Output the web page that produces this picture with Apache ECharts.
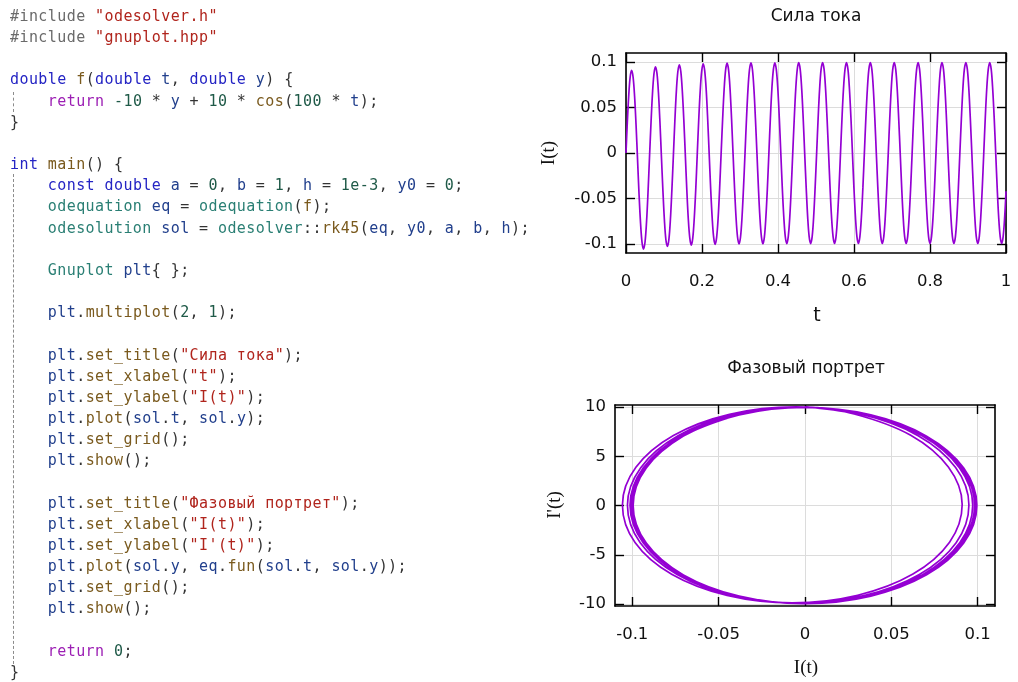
<!DOCTYPE html>
<html lang="ru">
<head>
<meta charset="UTF-8">
<title>odesolver + gnuplot</title>
<script src="https://cdn.jsdelivr.net/npm/echarts@6.0.0/dist/echarts.min.js"></script>
<style>
  body { margin: 0; background: #fff; }
  #chart { position: absolute; left: 0; top: 0; width: 1018px; height: 682px; }
  #code {
    position: absolute; left: 10px; top: 6px; margin: 0; z-index: 2;
    font-family: 'DejaVu Sans Mono', monospace; font-size: 15px;
    letter-spacing: 0.42px; line-height: 21.16px; color: #333;
  }
  .guide { position: absolute; left: 13px; width: 0; border-left: 1px dashed #8c8c8c; z-index: 1; }
  .p { color: #6a6a6a; }
  .s { color: #b0241c; }
  .k { color: #2424c4; }
  .f { color: #7a5a1e; }
  .t { color: #2a7f74; }
  .v { color: #213f8c; }
  .n { color: #1f5a48; }
  .r { color: #9c1fb4; }
</style>
</head>
<body>
<pre id="code"><span class="p">#include</span> <span class="s">"odesolver.h"</span>
<span class="p">#include</span> <span class="s">"gnuplot.hpp"</span>

<span class="k">double</span> <span class="f">f</span>(<span class="k">double</span> <span class="v">t</span>, <span class="k">double</span> <span class="v">y</span>) {
    <span class="r">return</span> <span class="n">-10</span> * <span class="v">y</span> + <span class="n">10</span> * <span class="f">cos</span>(<span class="n">100</span> * <span class="v">t</span>);
}

<span class="k">int</span> <span class="f">main</span>() {
    <span class="k">const</span> <span class="k">double</span> <span class="v">a</span> = <span class="n">0</span>, <span class="v">b</span> = <span class="n">1</span>, <span class="v">h</span> = <span class="n">1e-3</span>, <span class="v">y0</span> = <span class="n">0</span>;
    <span class="t">odequation</span> <span class="v">eq</span> = <span class="t">odequation</span>(<span class="f">f</span>);
    <span class="t">odesolution</span> <span class="v">sol</span> = <span class="t">odesolver</span>::<span class="f">rk45</span>(<span class="v">eq</span>, <span class="v">y0</span>, <span class="v">a</span>, <span class="v">b</span>, <span class="v">h</span>);

    <span class="t">Gnuplot</span> <span class="v">plt</span>{ };

    <span class="v">plt</span>.<span class="f">multiplot</span>(<span class="n">2</span>, <span class="n">1</span>);

    <span class="v">plt</span>.<span class="f">set_title</span>(<span class="s">"Сила тока"</span>);
    <span class="v">plt</span>.<span class="f">set_xlabel</span>(<span class="s">"t"</span>);
    <span class="v">plt</span>.<span class="f">set_ylabel</span>(<span class="s">"I(t)"</span>);
    <span class="v">plt</span>.<span class="f">plot</span>(<span class="v">sol</span>.<span class="v">t</span>, <span class="v">sol</span>.<span class="v">y</span>);
    <span class="v">plt</span>.<span class="f">set_grid</span>();
    <span class="v">plt</span>.<span class="f">show</span>();

    <span class="v">plt</span>.<span class="f">set_title</span>(<span class="s">"Фазовый портрет"</span>);
    <span class="v">plt</span>.<span class="f">set_xlabel</span>(<span class="s">"I(t)"</span>);
    <span class="v">plt</span>.<span class="f">set_ylabel</span>(<span class="s">"I'(t)"</span>);
    <span class="v">plt</span>.<span class="f">plot</span>(<span class="v">sol</span>.<span class="v">y</span>, <span class="v">eq</span>.<span class="f">fun</span>(<span class="v">sol</span>.<span class="v">t</span>, <span class="v">sol</span>.<span class="v">y</span>));
    <span class="v">plt</span>.<span class="f">set_grid</span>();
    <span class="v">plt</span>.<span class="f">show</span>();

    <span class="r">return</span> <span class="n">0</span>;
}</pre>
<div class="guide" style="top:92px;height:20px"></div>
<div class="guide" style="top:174px;height:490px"></div>
<div id="chart"></div>
<script>
// sol.t
var tVals = [0, 0.0029, 0.0069, 0.0108,
  0.0147, 0.0186, 0.0226, 0.0265, 0.0304, 0.0343, 0.0383, 0.0422, 0.0461, 0.0501, 0.0540, 0.0579, 0.0618, 0.0658, 0.0697, 0.0736,
  0.0775, 0.0815, 0.0854, 0.0893, 0.0932, 0.0972, 0.1011, 0.1050, 0.1090, 0.1129, 0.1168, 0.1207, 0.1247, 0.1286, 0.1325, 0.1364,
  0.1404, 0.1443, 0.1482, 0.1522, 0.1561, 0.1600, 0.1639, 0.1679, 0.1718, 0.1757, 0.1796, 0.1836, 0.1875, 0.1914, 0.1954, 0.1993,
  0.2032, 0.2071, 0.2111, 0.2150, 0.2189, 0.2228, 0.2268, 0.2307, 0.2346, 0.2385, 0.2425, 0.2464, 0.2503, 0.2543, 0.2582, 0.2621,
  0.2660, 0.2700, 0.2739, 0.2778, 0.2817, 0.2857, 0.2896, 0.2935, 0.2975, 0.3014, 0.3053, 0.3092, 0.3132, 0.3171, 0.3210, 0.3249,
  0.3289, 0.3328, 0.3367, 0.3406, 0.3446, 0.3485, 0.3524, 0.3564, 0.3603, 0.3642, 0.3681, 0.3721, 0.3760, 0.3799, 0.3838, 0.3878,
  0.3917, 0.3956, 0.3996, 0.4035, 0.4074, 0.4113, 0.4153, 0.4192, 0.4231, 0.4270, 0.4310, 0.4349, 0.4388, 0.4428, 0.4467, 0.4506,
  0.4545, 0.4585, 0.4624, 0.4663, 0.4702, 0.4742, 0.4781, 0.4820, 0.4859, 0.4899, 0.4938, 0.4977, 0.5017, 0.5056, 0.5095, 0.5134,
  0.5174, 0.5213, 0.5252, 0.5291, 0.5331, 0.5370, 0.5409, 0.5449, 0.5488, 0.5527, 0.5566, 0.5606, 0.5645, 0.5684, 0.5723, 0.5763,
  0.5802, 0.5841, 0.5880, 0.5920, 0.5959, 0.5998, 0.6038, 0.6077, 0.6116, 0.6155, 0.6195, 0.6234, 0.6273, 0.6312, 0.6352, 0.6391,
  0.6430, 0.6470, 0.6509, 0.6548, 0.6587, 0.6627, 0.6666, 0.6705, 0.6744, 0.6784, 0.6823, 0.6862, 0.6902, 0.6941, 0.6980, 0.7019,
  0.7059, 0.7098, 0.7137, 0.7176, 0.7216, 0.7255, 0.7294, 0.7333, 0.7373, 0.7412, 0.7451, 0.7491, 0.7530, 0.7569, 0.7608, 0.7648,
  0.7687, 0.7726, 0.7765, 0.7805, 0.7844, 0.7883, 0.7923, 0.7962, 0.8001, 0.8040, 0.8080, 0.8119, 0.8158, 0.8197, 0.8237, 0.8276,
  0.8315, 0.8355, 0.8394, 0.8433, 0.8472, 0.8512, 0.8551, 0.8590, 0.8629, 0.8669, 0.8708, 0.8747, 0.8786, 0.8826, 0.8865, 0.8904,
  0.8944, 0.8983, 0.9022, 0.9061, 0.9101, 0.9140, 0.9179, 0.9218, 0.9258, 0.9297, 0.9336, 0.9376, 0.9415, 0.9454, 0.9493, 0.9533,
  0.9572, 0.9611, 0.9650, 0.9690, 0.9729, 0.9768, 0.9807, 0.9847, 0.9886, 0.9925, 0.9965, 1];

// sol.y  -> I(t)
var iVals = [0, 0.0285, 0.0612, 0.0830,
  0.0910, 0.0837, 0.0625, 0.0305, -0.0073, -0.0451, -0.0772, -0.0984, -0.1057, -0.0979, -0.0762, -0.0437, -0.0053, 0.0330, 0.0655, 0.0872,
  0.0949, 0.0875, 0.0662, 0.0341, -0.0039, -0.0419, -0.0740, -0.0954, -0.1028, -0.0951, -0.0735, -0.0411, -0.0028, 0.0354, 0.0678, 0.0894,
  0.0971, 0.0896, 0.0681, 0.0359, -0.0021, -0.0401, -0.0723, -0.0937, -0.1013, -0.0936, -0.0720, -0.0397, -0.0015, 0.0366, 0.0690, 0.0905,
  0.0982, 0.0906, 0.0692, 0.0369, -0.0011, -0.0392, -0.0714, -0.0929, -0.1005, -0.0928, -0.0713, -0.0389, -0.0008, 0.0373, 0.0696, 0.0912,
  0.0988, 0.0912, 0.0698, 0.0375, -0.0006, -0.0387, -0.0710, -0.0924, -0.1000, -0.0924, -0.0709, -0.0386, -0.0004, 0.0377, 0.0700, 0.0915,
  0.0991, 0.0916, 0.0701, 0.0378, -0.0003, -0.0384, -0.0707, -0.0922, -0.0998, -0.0922, -0.0707, -0.0383, -0.0002, 0.0379, 0.0702, 0.0917,
  0.0993, 0.0917, 0.0702, 0.0379, -0.0002, -0.0383, -0.0706, -0.0921, -0.0997, -0.0920, -0.0705, -0.0382, -0.0001, 0.0380, 0.0703, 0.0918,
  0.0994, 0.0918, 0.0703, 0.0380, -0.0001, -0.0382, -0.0705, -0.0920, -0.0996, -0.0920, -0.0704, -0.0381, 0, 0.0381, 0.0704, 0.0919,
  0.0995, 0.0919, 0.0704, 0.0381, 0, -0.0381, -0.0704, -0.0919, -0.0995, -0.0919, -0.0704, -0.0381, 0, 0.0381, 0.0704, 0.0919,
  0.0995, 0.0919, 0.0704, 0.0381, 0, -0.0381, -0.0704, -0.0919, -0.0995, -0.0919, -0.0704, -0.0381, 0, 0.0381, 0.0704, 0.0919,
  0.0995, 0.0919, 0.0704, 0.0381, 0, -0.0381, -0.0704, -0.0919, -0.0995, -0.0919, -0.0704, -0.0381, 0, 0.0381, 0.0704, 0.0919,
  0.0995, 0.0919, 0.0704, 0.0381, 0, -0.0381, -0.0704, -0.0919, -0.0995, -0.0919, -0.0704, -0.0381, 0, 0.0381, 0.0704, 0.0919,
  0.0995, 0.0919, 0.0704, 0.0381, 0, -0.0381, -0.0704, -0.0919, -0.0995, -0.0919, -0.0704, -0.0381, 0, 0.0381, 0.0704, 0.0919,
  0.0995, 0.0919, 0.0704, 0.0381, 0, -0.0381, -0.0704, -0.0919, -0.0995, -0.0919, -0.0704, -0.0381, 0, 0.0381, 0.0704, 0.0919,
  0.0995, 0.0919, 0.0704, 0.0381, 0, -0.0381, -0.0704, -0.0919, -0.0995, -0.0919, -0.0704, -0.0381, 0, 0.0381, 0.0704, 0.0919,
  0.0995, 0.0919, 0.0704, 0.0381, 0, -0.0381, -0.0704, -0.0919, -0.0995, -0.0919, -0.0704, -0.0421];

// eq.fun(sol.t, sol.y) -> I'(t)
var dVals = [10, 9.29, 7.13, 3.90,
  0.09, -3.73, -6.96, -9.11, -9.88, -9.12, -6.97, -3.75, 0.06, 3.87, 7.10, 9.25, 10.00, 9.24, 7.09, 3.86,
  0.05, -3.77, -7.00, -9.15, -9.91, -9.15, -7.00, -3.78, 0.03, 3.84, 7.07, 9.22, 9.98, 9.22, 7.07, 3.84,
  0.02, -3.79, -7.02, -9.17, -9.93, -9.17, -7.02, -3.79, 0.02, 3.83, 7.06, 9.21, 9.97, 9.20, 7.05, 3.82,
  0.01, -3.80, -7.03, -9.18, -9.94, -9.18, -7.03, -3.80, 0.01, 3.82, 7.05, 9.20, 9.96, 9.20, 7.05, 3.82,
  0, -3.81, -7.04, -9.19, -9.95, -9.19, -7.04, -3.81, 0, 3.81, 7.04, 9.19, 9.95, 9.19, 7.04, 3.81,
  0, -3.81, -7.04, -9.19, -9.95, -9.19, -7.04, -3.81, 0, 3.81, 7.04, 9.19, 9.95, 9.19, 7.04, 3.81,
  0, -3.81, -7.04, -9.19, -9.95, -9.19, -7.04, -3.81, 0, 3.81, 7.04, 9.19, 9.95, 9.19, 7.04, 3.81,
  0, -3.81, -7.04, -9.19, -9.95, -9.19, -7.04, -3.81, 0, 3.81, 7.04, 9.19, 9.95, 9.19, 7.04, 3.81,
  0, -3.81, -7.04, -9.19, -9.95, -9.19, -7.04, -3.81, 0, 3.81, 7.04, 9.19, 9.95, 9.19, 7.04, 3.81,
  0, -3.81, -7.04, -9.19, -9.95, -9.19, -7.04, -3.81, 0, 3.81, 7.04, 9.19, 9.95, 9.19, 7.04, 3.81,
  0, -3.81, -7.04, -9.19, -9.95, -9.19, -7.04, -3.81, 0, 3.81, 7.04, 9.19, 9.95, 9.19, 7.04, 3.81,
  0, -3.81, -7.04, -9.19, -9.95, -9.19, -7.04, -3.81, 0, 3.81, 7.04, 9.19, 9.95, 9.19, 7.04, 3.81,
  0, -3.81, -7.04, -9.19, -9.95, -9.19, -7.04, -3.81, 0, 3.81, 7.04, 9.19, 9.95, 9.19, 7.04, 3.81,
  0, -3.81, -7.04, -9.19, -9.95, -9.19, -7.04, -3.81, 0, 3.81, 7.04, 9.19, 9.95, 9.19, 7.04, 3.81,
  0, -3.81, -7.04, -9.19, -9.95, -9.19, -7.04, -3.81, 0, 3.81, 7.04, 9.19, 9.95, 9.19, 7.04, 3.81,
  0, -3.81, -7.04, -9.19, -9.95, -9.19, -7.04, -3.81, 0, 3.81, 7.04, 9.02];

var tTicks = [0, 0.2, 0.4, 0.6, 0.8, 1];
var iTicks = [-0.1, -0.05, 0, 0.05, 0.1];
var dTicks = [-10, -5, 0, 5, 10];

var lineColor = '#9400d3';
var labelFont = { color: '#111', fontSize: 16.5, fontFamily: 'DejaVu Sans' };

function makeAxis(gridIndex, min, max, ticks, pos, withLabels) {
  return {
    type: 'value',
    gridIndex: gridIndex,
    position: pos,
    min: min,
    max: max,
    axisLine: { show: true, onZero: false, lineStyle: { color: '#000', width: 1.6 } },
    axisTick: { show: true, inside: true, length: 9, customValues: ticks, lineStyle: { color: '#000', width: 1.4 } },
    axisLabel: Object.assign({ show: withLabels, margin: 9, customValues: ticks }, labelFont),
    splitLine: { show: withLabels, lineStyle: { color: '#dcdcdc', width: 1 } }
  };
}

var xTop = makeAxis(0, 0, 1, tTicks, 'bottom', true);
xTop.axisLabel.margin = 20;
var xPhase = makeAxis(1, -0.11, 0.11, iTicks, 'bottom', true);
xPhase.axisLabel.margin = 20;

var chart = echarts.init(document.getElementById('chart'));

var titleFont = '17px "DejaVu Sans"';
var serifFont = '19px "Liberation Serif"';

chart.setOption({
  animation: false,
  grid: [
    { left: 626, top: 53, width: 380, height: 200 },
    { left: 615, top: 405, width: 380, height: 201 }
  ],
  xAxis: [
    xTop,
    makeAxis(0, 0, 1, tTicks, 'top', false),
    xPhase,
    makeAxis(1, -0.11, 0.11, iTicks, 'top', false)
  ],
  yAxis: [
    makeAxis(0, -0.11, 0.11, iTicks, 'left', true),
    makeAxis(0, -0.11, 0.11, iTicks, 'right', false),
    makeAxis(1, -10.2, 10.2, dTicks, 'left', true),
    makeAxis(1, -10.2, 10.2, dTicks, 'right', false)
  ],
  graphic: [
    { type: 'text', x: 816, y: 17, style: { text: 'Сила тока', font: titleFont, fill: '#111', align: 'center', verticalAlign: 'middle' } },
    { type: 'text', x: 817, y: 316, style: { text: 't', font: '19px "DejaVu Sans"', fill: '#111', align: 'center', verticalAlign: 'middle' } },
    { type: 'text', x: 549, y: 153, rotation: Math.PI / 2, style: { text: 'I(t)', font: serifFont, fill: '#111', align: 'center', verticalAlign: 'middle' } },
    { type: 'text', x: 806, y: 369, style: { text: 'Фазовый портрет', font: titleFont, fill: '#111', align: 'center', verticalAlign: 'middle' } },
    { type: 'text', x: 806, y: 668, style: { text: 'I(t)', font: serifFont, fill: '#111', align: 'center', verticalAlign: 'middle' } },
    { type: 'text', x: 555, y: 505, rotation: Math.PI / 2, style: { text: "I'(t)", font: serifFont, fill: '#111', align: 'center', verticalAlign: 'middle' } }
  ],
  series: [
    {
      type: 'line',
      xAxisIndex: 0,
      yAxisIndex: 0,
      data: tVals.map(function (t, i) { return [t, iVals[i]]; }),
      smooth: 0.35,
      showSymbol: false,
      lineStyle: { color: lineColor, width: 1.7 }
    },
    {
      type: 'line',
      xAxisIndex: 2,
      yAxisIndex: 2,
      data: iVals.map(function (v, i) { return [v, dVals[i]]; }),
      smooth: 0.35,
      showSymbol: false,
      lineStyle: { color: lineColor, width: 1.7 }
    }
  ]
});
</script>
</body>
</html>
